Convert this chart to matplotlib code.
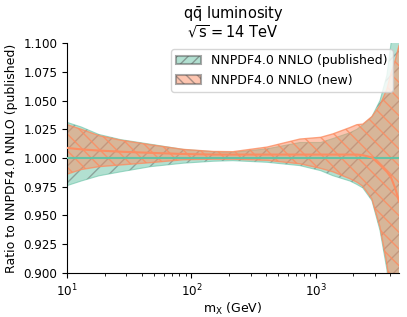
import matplotlib
matplotlib.use("Agg")
import matplotlib.pyplot as plt
from matplotlib.patches import Patch

# invariant mass points (GeV)
mx = [10, 13, 18, 27, 47, 86, 150, 216, 406, 748, 1100, 1380, 1890,
      2150, 2400, 2840, 3300, 3750, 4050, 4400, 4700]

# NNPDF4.0 NNLO (published), ratio to itself
pub_cv = [1.0] * len(mx)
pub_up = [1.031, 1.027, 1.0205, 1.016, 1.012, 1.0075, 1.0055, 1.005, 1.008,
          1.0135, 1.0135, 1.017, 1.022, 1.025, 1.029, 1.036, 1.050, 1.072,
          1.100, 1.140, 1.190]
pub_lo = [0.976, 0.980, 0.9845, 0.988, 0.9925, 0.9955, 0.9972, 0.9977,
          0.9963, 0.9934, 0.989, 0.9846, 0.980, 0.977, 0.974, 0.963, 0.937,
          0.903, 0.870, 0.820, 0.760]

# NNPDF4.0 NNLO (new)
new_cv = [1.0088, 1.0075, 1.0065, 1.0055, 1.0045, 1.0035, 1.003, 1.003,
          1.003, 1.003, 1.003, 1.003, 1.003, 1.003, 1.0025, 1.0005, 0.994,
          0.988, 0.983, 0.973, 0.962]
new_up = [1.029, 1.025, 1.0195, 1.0155, 1.0115, 1.0075, 1.0057, 1.0055,
          1.0095, 1.0165, 1.018, 1.021, 1.0265, 1.029, 1.0295, 1.036, 1.046,
          1.060, 1.074, 1.086, 1.098]
new_lo = [0.986, 0.990, 0.9925, 0.994, 0.996, 0.9985, 0.999, 0.999, 0.998,
          0.995, 0.991, 0.988, 0.982, 0.979, 0.9755, 0.9645, 0.940, 0.908,
          0.880, 0.840, 0.800]

GREEN = '#66c2a5'
ORANGE = '#fc8d62'


def plot_lumi() -> None:
    plt.rcParams['mathtext.default'] = 'regular'
    plt.rcParams['font.size'] = 8.7

    fig = plt.figure(figsize=(4.07, 3.17), dpi=100)
    ax = fig.add_axes([0.165, 0.139, 0.815, 0.725])

    ax.fill_between(mx, pub_lo, pub_up, facecolor=GREEN, edgecolor='#666666',
                    alpha=0.5, hatch='//', linewidth=0, zorder=1)
    ax.plot(mx, pub_up, color=GREEN, alpha=0.6, lw=0.8, zorder=1)
    ax.plot(mx, pub_lo, color=GREEN, alpha=0.6, lw=0.8, zorder=1)

    ax.fill_between(mx, new_lo, new_up, facecolor=ORANGE, edgecolor='none',
                    alpha=0.5, linewidth=0, zorder=2)
    # hatch drawn on its own so it stays bright
    ax.fill_between(mx, new_lo, new_up, facecolor='none', edgecolor=ORANGE,
                    alpha=0.85, hatch='\\\\', linewidth=0, zorder=2)
    ax.plot(mx, new_up, color=ORANGE, alpha=0.8, lw=1.0, zorder=2)
    ax.plot(mx, new_lo, color=ORANGE, alpha=0.8, lw=1.0, zorder=2)

    ax.plot(mx, pub_cv, color=GREEN, lw=1.5, zorder=3)
    ax.plot(mx, new_cv, color=ORANGE, lw=1.5, zorder=3)

    ax.set_xscale('log')
    ax.set_xlim(10, 4680)
    ax.set_ylim(0.9, 1.1)
    ax.set_yticks([0.9, 0.925, 0.95, 0.975, 1.0, 1.025, 1.05, 1.075, 1.1])
    ax.set_yticklabels(['0.900', '0.925', '0.950', '0.975', '1.000',
                        '1.025', '1.050', '1.075', '1.100'])
    ax.tick_params(labelsize=8.6)
    ax.spines['top'].set_visible(False)
    ax.spines['right'].set_visible(False)

    ax.set_xlabel('$m_{X}$ (GeV)', fontsize=9, labelpad=1)
    ax.set_ylabel('Ratio to NNPDF4.0 NNLO (published)', fontsize=9)
    ax.set_title('$q\\bar{q}$ luminosity\n$\\sqrt{s} = 14$ TeV', fontsize=10.5,
                 linespacing=1.0, pad=4)

    handles = [
        Patch(facecolor=GREEN, edgecolor='#555555', alpha=0.5, hatch='///',
              linewidth=1.5),
        Patch(facecolor=ORANGE, edgecolor='#555555', alpha=0.5, hatch='\\\\\\',
              linewidth=1.5),
    ]
    ax.legend(handles, ['NNPDF4.0 NNLO (published)', 'NNPDF4.0 NNLO (new)'],
              loc='upper right', fontsize=9)

    fig.savefig('out.png', dpi=100)


if __name__ == "__main__":
    plot_lumi()
